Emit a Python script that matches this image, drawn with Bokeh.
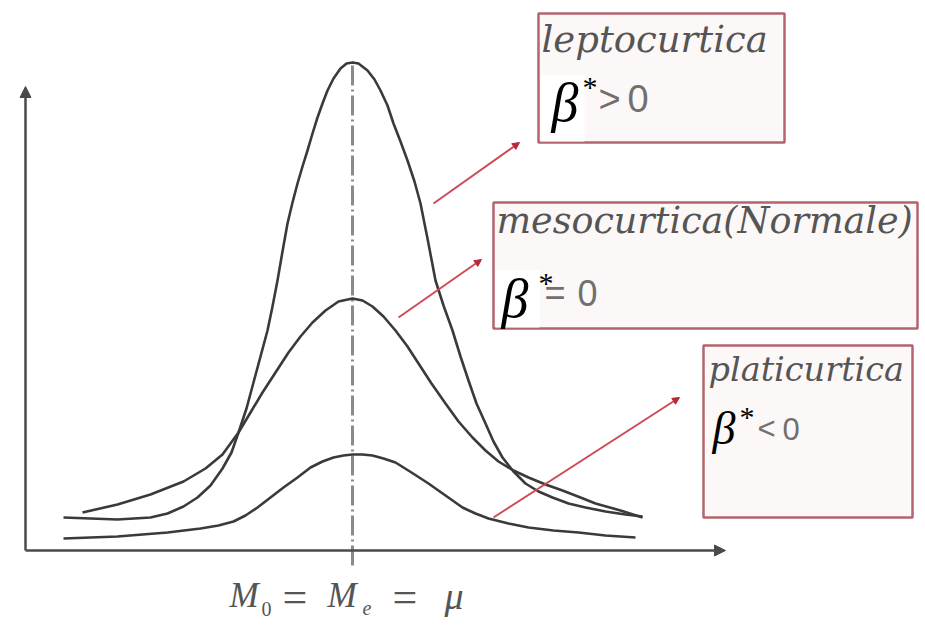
from bokeh.plotting import figure
from bokeh.models import Range1d, Label, Arrow, NormalHead
from bokeh.embed import file_html
from bokeh.resources import INLINE

# Density profiles: horizontal offset from the common centre (mode = median = mean)
# and height of the curve above the horizontal axis.
lepto_x = [-289, -262, -235, -202, -185, -169, -155, -142, -130, -121,
           -114, -106, -99, -92, -85, -80, -75, -70, -65, -60,
           -55, -50, -45, -40, -35, -30, -25, -19, -12, -6,
           0, 6, 15, 22, 28, 35, 41, 48, 55, 62,
           68, 75, 83, 91, 100, 108, 116, 124, 133, 141,
           150, 161, 173, 186, 200, 216, 233, 253, 273, 290]
lepto_y = [33, 32, 31, 33, 37, 44, 53, 65, 82, 98,
           118, 142, 168, 194, 220, 244, 270, 299, 327, 348,
           367, 384, 400, 417, 433, 447, 460, 472, 482, 487,
           488, 487, 480, 471, 460, 445, 427, 409, 390, 369,
           347, 312, 270, 245, 220, 194, 170, 147, 127, 109,
           93, 79, 67, 59, 53, 47, 43, 39, 36, 34]

meso_x = [-270, -235, -202, -169, -147, -130, -114, -102, -90, -77,
          -64, -52, -40, -27, -14, 0, 10, 20, 31, 43,
          55, 66, 79, 93, 106, 120, 133, 146, 161, 176,
          193, 210, 228, 243, 268, 290]
meso_y = [38, 46, 56, 69, 82, 96, 118, 138, 158, 178,
          198, 214, 228, 240, 249, 252, 250, 244, 234, 220,
          204, 187, 167, 147, 129, 113, 100, 89, 80, 73,
          66, 60, 53, 47, 40, 33]

platy_x = [-289, -262, -235, -210, -185, -152, -134, -119, -107, -95,
           -82, -69, -55, -42, -30, -19, -9, 0, 10, 20,
           31, 43, 59, 76, 93, 110, 123, 136, 156, 176,
           201, 226, 253, 283]
platy_y = [12, 13, 14, 16, 18, 22, 25, 29, 35, 43,
           53, 63, 73, 83, 89, 93, 95, 96, 96, 95,
           92, 88, 78, 67, 55, 43, 37, 32, 27, 23,
           20, 18, 15, 13]

kurtosis_names = ["leptocurtica", "mesocurtica(Normale)", "platicurtica"]
kurtosis_signs = [">", "=", "<"]
centre_symbols = ["M", "0", "=", "M", "e", "=", "\u03bc"]

# Page layout: centre line and horizontal axis position in pixels
CX, BASE = 352, 550
W, H = 925, 626
TEXT_LIFT = 12  # baseline correction for text annotations


def at(px, py):
    return px - CX, BASE - py


p = figure(width=W, height=H,
           x_range=Range1d(-CX, W - CX), y_range=Range1d(BASE - H, BASE),
           output_backend="svg", toolbar_location=None,
           x_axis_location=None, y_axis_location=None,
           min_border=0, min_border_left=0, min_border_right=0,
           min_border_top=0, min_border_bottom=0)
p.grid.visible = False
p.outline_line_color = None
p.background_fill_color = "white"
p.border_fill_color = "white"

AXIS = "#4a4a4a"
CURVE = "#3a3a3a"
RED = "#cf4a58"
FRAME = "#b3646e"

# symmetry line through the common centre
x0, y0 = at(CX, 565)
x1, y1 = at(CX, 63)
p.line([x0, x1], [y0, y1], line_color="#8a8a8a", line_width=3,
       line_dash="20 4 2 4")

# axes with arrow heads
ax_x, ax_y = at(25, BASE)
tip_x, _ = at(725, BASE)
_, tip_y = at(25, 86)
p.add_layout(Arrow(x_start=ax_x, y_start=ax_y, x_end=tip_x, y_end=ax_y,
                   line_color=AXIS, line_width=2.5,
                   end=NormalHead(size=11, fill_color=AXIS, line_color=AXIS)))
p.add_layout(Arrow(x_start=ax_x, y_start=ax_y, x_end=ax_x, y_end=tip_y,
                   line_color=AXIS, line_width=2.5,
                   end=NormalHead(size=11, fill_color=AXIS, line_color=AXIS)))

# the three distributions
for xs, ys in ((platy_x, platy_y), (meso_x, meso_y), (lepto_x, lepto_y)):
    p.line(xs, ys, line_color=CURVE, line_width=2.6, line_join="round")

# boxes (left, top, right, bottom in page pixels)
boxes = [(538, 13, 784, 142), (493, 202, 917, 328), (703, 345, 912, 517)]
for l, t, r, b in boxes:
    lx, ty = at(l, t)
    rx, by = at(r, b)
    p.quad(left=lx, right=rx, top=ty, bottom=by, fill_color="#fdf8f8",
           line_color=FRAME, line_width=2.5)

# white patches behind the beta symbols
for l, t, r, b in [(540, 75, 584, 141), (495, 270, 539, 327)]:
    lx, ty = at(l, t)
    rx, by = at(r, b)
    p.quad(left=lx, right=rx, top=ty, bottom=by, fill_color="white",
           line_color=None)

# pointers from the curves to the boxes
pointers = [((433, 203), (519, 142)), ((398, 317), (481, 259)), ((493, 517), (679, 397))]
for (sx, sy), (ex, ey) in pointers:
    xs_, ys_ = at(sx, sy)
    xe_, ye_ = at(ex, ey)
    p.add_layout(Arrow(x_start=xs_, y_start=ys_, x_end=xe_, y_end=ye_,
                       line_color=RED, line_width=2,
                       end=NormalHead(size=7, fill_color="#b8283a",
                                      line_color="#b8283a")))


def label(px, py, text, size, font="DejaVu Serif", style="italic",
          color="#555555"):
    x, y = at(px, py - TEXT_LIFT)
    p.add_layout(Label(x=x, y=y, text=text, text_font=font,
                       text_font_style=style, text_font_size=f"{size}px",
                       text_color=color, text_baseline="alphabetic",
                       text_align="left"))


# box titles
label(541, 51, kurtosis_names[0], 37)
label(496, 232, kurtosis_names[1], 36.5)
label(708, 381, kurtosis_names[2], 33.5)

# beta* comparisons
beta_spec = [
    # beta x, baseline, size, star x, star baseline, sign x, sign baseline, sign size, zero x
    (551, 114, 54, 582, 98, 598, 110, 38, 627),
    (501, 310, 54, 538, 294, 544, 304, 36, 577),
    (712, 440, 46, 739, 428, 757, 440, 31, 782),
]
for i, (bx, bb, bs, sx, sb, gx, gb, gs, zx) in enumerate(beta_spec):
    label(bx, bb, "\u03b2", bs, font="Liberation Serif", color="black")
    label(sx, sb, "*", 30, font="Liberation Serif", style="normal", color="black")
    label(gx, gb, kurtosis_signs[i], gs, font="Liberation Sans", style="normal",
          color="#707070")
    label(zx, gb, "0", gs, font="Liberation Sans", style="normal", color="#707070")

# centre label under the axis: M0 = Me = mu
label(229, 607, centre_symbols[0], 35, font="Liberation Serif")
label(261, 620, centre_symbols[1], 20, font="Liberation Serif", style="normal")
label(282, 609, centre_symbols[2], 44, font="Liberation Serif", style="normal")
label(327, 607, centre_symbols[3], 35, font="Liberation Serif")
label(362, 619, centre_symbols[4], 20, font="Liberation Serif")
label(392, 609, centre_symbols[5], 44, font="Liberation Serif", style="normal")
label(444, 607, centre_symbols[6], 38, font="Liberation Serif")

open("out.html", "w").write(file_html(p, INLINE))
